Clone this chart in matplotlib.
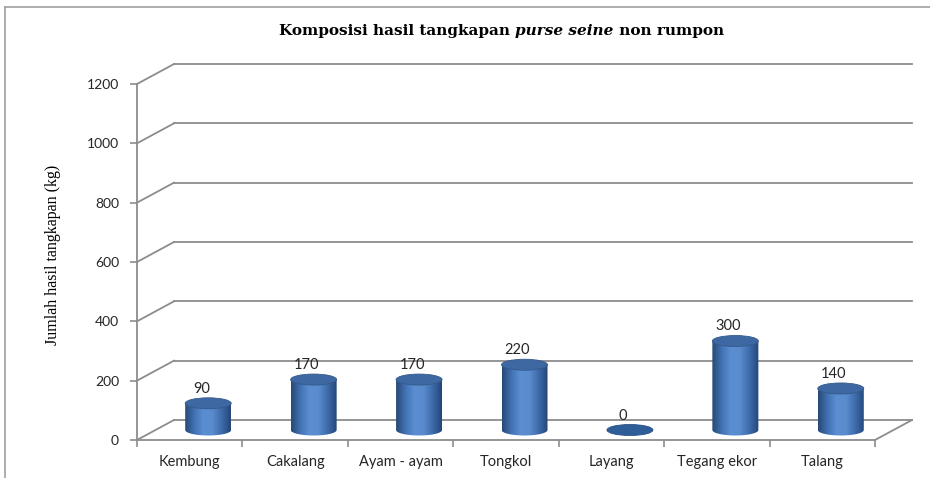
import matplotlib
matplotlib.use("Agg")
import matplotlib.pyplot as plt
import numpy as np
from matplotlib.patches import Ellipse, PathPatch
from matplotlib.path import Path
from matplotlib.lines import Line2D
from matplotlib.colors import LinearSegmentedColormap

categories = ["Kembung", "Cakalang", "Ayam - ayam", "Tongkol", "Layang", "Tegang ekor", "Talang"]
values = [90, 170, 170, 220, 0, 300, 140]
yticks = [0, 200, 400, 600, 800, 1000, 1200]

W, H = 930, 478
fig = plt.figure(figsize=(W / 100, H / 100), dpi=100)
fig.patch.set_facecolor("white")

# axes box in pixels (front plane)
left, bottom, aw, ah = 137, 38, 738, 356
ax = fig.add_axes([left / W, bottom / H, aw / W, ah / H])
ax.set_xlim(0, len(categories))
ax.set_ylim(0, 1200)
ax.set_facecolor("none")

px_x = aw / len(categories)
px_y = ah / 1200
dxd = 37 / px_x       # depth offset in data units
dyd = 20 / px_y
eh = 11 / px_y        # ellipse height in data units
cw = 46 / px_x        # cylinder width

grid_c = "#8c8c8c"
for t in yticks:
    ax.plot([0, dxd], [t, t + dyd], color=grid_c, lw=1.3, clip_on=False, zorder=1)
    ax.plot([dxd, len(categories) + dxd], [t + dyd, t + dyd], color=grid_c, lw=1.3,
            clip_on=False, zorder=1)
n = len(categories)
ax.plot([n, n + dxd], [0, dyd], color=grid_c, lw=1.3, clip_on=False, zorder=1)

for s in ["top", "right"]:
    ax.spines[s].set_visible(False)
for s in ["left", "bottom"]:
    ax.spines[s].set_color(grid_c)
    ax.spines[s].set_linewidth(1.3)

ax.set_yticks(yticks)
ax.set_yticklabels([str(t) for t in yticks], fontfamily="Lato", fontsize=10, color="#262626")
ax.tick_params(axis="y", length=5, color=grid_c, width=1.2, pad=8)
ax.set_xticks(np.arange(n) + 0.5)
ax.set_xticklabels(categories, fontfamily="Lato", fontsize=10.5, color="#262626")
ax.set_xticks(np.arange(n + 1), minor=True)
ax.tick_params(axis="x", which="major", length=0, pad=11)
ax.tick_params(axis="x", which="minor", length=5, color=grid_c, width=1.2)

cmap = LinearSegmentedColormap.from_list(
    "cyl", ["#274a78", "#4272b3", "#5b8ed2", "#5a8bcd", "#3e6cab", "#25477a"])
grad = np.linspace(0, 1, 64).reshape(1, -1)

theta = np.linspace(np.pi, 2 * np.pi, 40)
for i, v in enumerate(values):
    xc = i + 0.5 + dxd / 2
    base = dyd / 2
    top = v + base
    if v > 0:
        ex = xc + cw / 2 * np.cos(theta)
        ey = base + eh / 2 * np.sin(theta)
        verts = [(xc - cw / 2, top)] + list(zip(ex, ey)) + [(xc + cw / 2, top), (xc - cw / 2, top)]
        codes = [Path.MOVETO] + [Path.LINETO] * (len(verts) - 2) + [Path.CLOSEPOLY]
        clip = PathPatch(Path(verts, codes), facecolor="none", edgecolor="none")
        ax.add_patch(clip)
        im = ax.imshow(grad, cmap=cmap, aspect="auto", zorder=3,
                       extent=(xc - cw / 2, xc + cw / 2, base - eh, top), clip_on=True)
        im.set_clip_path(clip)
        ax.add_patch(Ellipse((xc, top), cw, eh, facecolor="#3d68a2",
                             edgecolor="#34598c", lw=0.6, zorder=4, clip_on=False))
    else:
        ax.add_patch(Ellipse((xc, top), cw, eh, facecolor="#2f5d98",
                             edgecolor="#2a5287", lw=0.6, zorder=4, clip_on=False))
    ax.text(xc - 7 / px_x, top + eh / 2 + 2 / px_y, str(v), ha="center", va="bottom",
            fontfamily="Lato", fontsize=10.5, color="#262626", clip_on=False)

ax.set_xlim(0, n)
ax.set_ylim(0, 1200)

# title in three pieces (italic middle)
t1 = fig.text(279 / W, 1 - 31 / H, "Komposisi hasil tangkapan ", fontfamily="DejaVu Serif",
              fontsize=11, fontweight="bold", va="center", ha="left")
t2 = ax.annotate("purse seine", xy=(1, 0), xycoords=t1, va="bottom", ha="left",
                 fontfamily="DejaVu Serif", fontsize=11, fontweight="bold", style="italic")
ax.annotate(" non rumpon", xy=(1, 0), xycoords=t2, va="bottom", ha="left",
            fontfamily="DejaVu Serif", fontsize=11, fontweight="bold")

fig.text(53 / W, 1 - 255 / H, "Jumlah hasil tangkapan (kg)", rotation=90, ha="center",
         va="center", fontfamily="Liberation Serif", fontsize=11.5)

# outer frame
fig.add_artist(Line2D([5 / W, 1], [1 - 7 / H, 1 - 7 / H], color="#a0a0a0", lw=1.2,
                      transform=fig.transFigure))
fig.add_artist(Line2D([5 / W, 5 / W], [0, 1 - 7 / H], color="#a0a0a0", lw=1.2,
                      transform=fig.transFigure))

fig.savefig("out.png", dpi=100)
